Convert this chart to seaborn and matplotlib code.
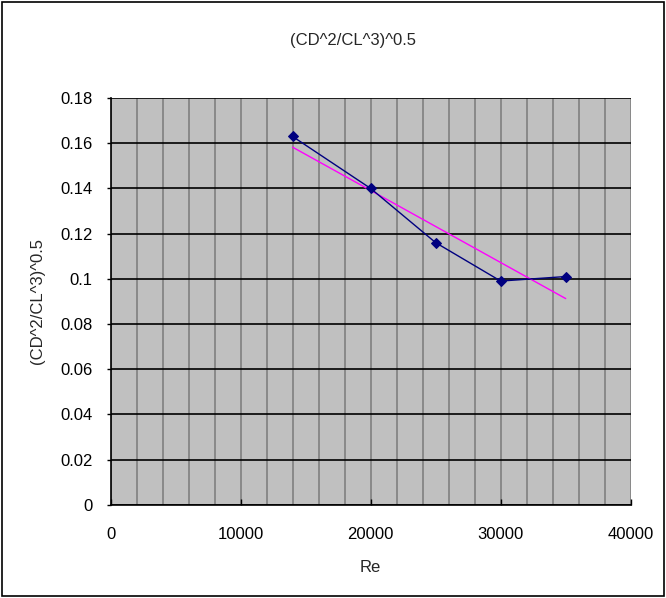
import numpy as np
import pandas as pd
import matplotlib
matplotlib.use("Agg")
import matplotlib.pyplot as plt
import seaborn as sns
from matplotlib.ticker import MultipleLocator

re_values = [14000, 20000, 25000, 30000, 35000]
coef_values = [0.163, 0.140, 0.116, 0.099, 0.101]
title_text = "(CD^2/CL^3)^0.5"
x_label = "Re"
y_label = "(CD^2/CL^3)^0.5"
x_ticks = [0, 10000, 20000, 30000, 40000]
y_ticks = [0, 0.02, 0.04, 0.06, 0.08, 0.1, 0.12, 0.14, 0.16, 0.18]
y_tick_labels = ["0", "0.02", "0.04", "0.06", "0.08", "0.1", "0.12", "0.14", "0.16", "0.18"]

df = pd.DataFrame({"Re": re_values, "val": coef_values})

sns.set_style("white")
plt.rcParams['font.family'] = ['Liberation Sans', 'DejaVu Sans']

fig = plt.figure(figsize=(6.66, 5.98), dpi=100)
fig.patch.set_facecolor("white")
fig.add_artist(plt.Rectangle((0.003, 0.003), 0.994, 0.994, transform=fig.transFigure,
                             fill=False, edgecolor="black", linewidth=1.2))

ax = fig.add_axes([0.166, 0.156, 0.781, 0.680])
ax.set_facecolor("#C0C0C0")

ax.set_xlim(0, 40000)
ax.set_ylim(0, 0.18)
ax.xaxis.set_minor_locator(MultipleLocator(2000))

ax.grid(which="minor", axis="x", color="#808080", linewidth=1.2)
ax.grid(which="major", axis="x", color="#808080", linewidth=1.2)
ax.grid(which="major", axis="y", color="black", linewidth=1.2)
ax.set_axisbelow(True)

# linear trendline fitted to the data
slope, intercept = np.polyfit(df["Re"], df["val"], 1)
tx = np.array([min(re_values), max(re_values)])
trend = pd.DataFrame({"Re": tx, "val": slope * tx + intercept})
sns.lineplot(data=trend, x="Re", y="val", ax=ax, color="#FF00FF", linewidth=1.0)

sns.lineplot(data=df, x="Re", y="val", ax=ax, color="#000080", linewidth=1.0,
             marker="D", markersize=5.5, markeredgecolor="#000080", markerfacecolor="#000080")

for s in ["top", "right"]:
    ax.spines[s].set_visible(False)
for s in ["left", "bottom"]:
    ax.spines[s].set_color("black")
    ax.spines[s].set_linewidth(1.2)

ax.set_yticks(y_ticks)
ax.set_yticklabels(y_tick_labels)
ax.set_xticks(x_ticks)
ax.set_xticklabels([str(v) for v in x_ticks])

ax.tick_params(axis="both", which="major", labelsize=12, colors="black")
ax.tick_params(axis="y", which="major", direction="out", length=3, width=1, left=True, pad=10)
ax.tick_params(axis="x", which="major", direction="in", length=4, width=1, bottom=True, pad=16)
ax.tick_params(axis="x", which="minor", length=0)

ax.set_xlabel(x_label, fontsize=12, labelpad=13)
ax.set_ylabel(y_label, fontsize=12, labelpad=11)
fig.text(0.53, 0.932, title_text, ha="center", va="center", fontsize=12)

fig.savefig("out.png", dpi=100)
